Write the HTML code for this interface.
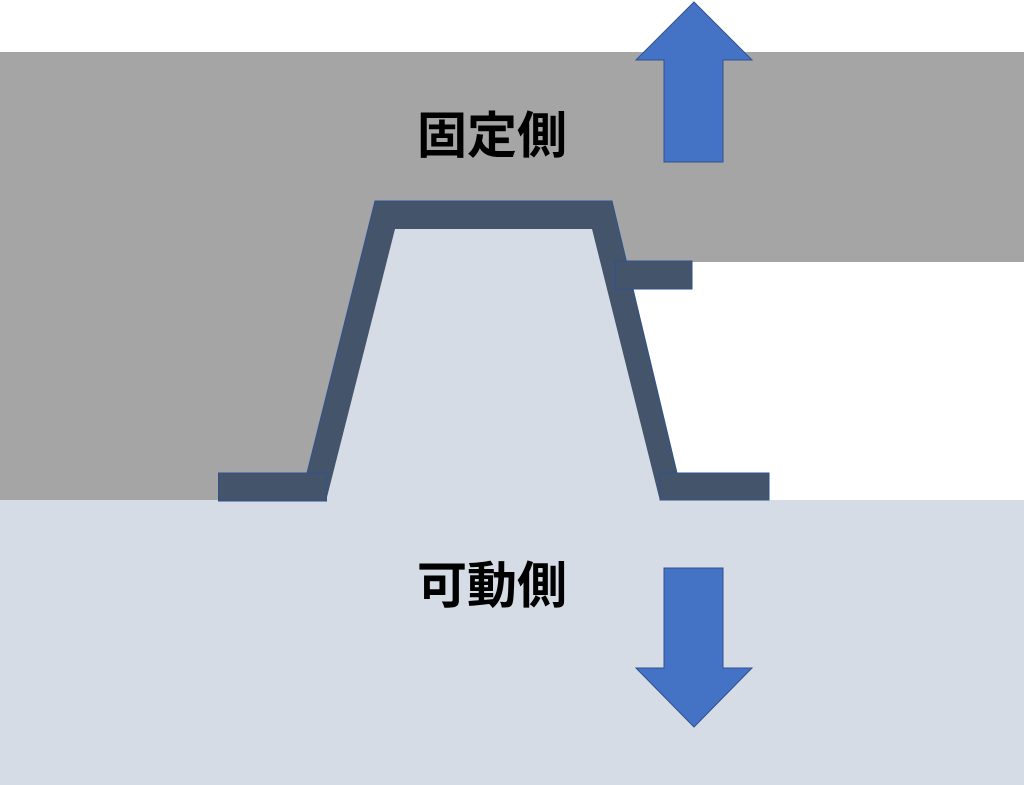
<!DOCTYPE html>
<html><head><meta charset="utf-8"><style>
html,body{margin:0;padding:0;background:#fff;}
svg{display:block;}
text{font-family:"Liberation Sans","Noto Sans CJK JP",sans-serif;font-weight:bold;font-size:50px;fill:#000;}
</style></head><body>
<svg width="1024" height="785" viewBox="0 0 1024 785">
<rect x="0" y="52" width="1024" height="448" fill="#a5a5a5"/>
<polygon points="626.6,262 1024,262 1024,500 677,500 677,473" fill="#fff"/>
<rect x="0" y="500" width="1024" height="285" fill="#d6dce5"/>
<!-- trapezoid -->
<polygon points="375,201 612,201 677,473 660,500 326,500 307,473" fill="#44546a" stroke="#2f528f" stroke-width="1"/>
<polygon points="395,229 592,229 660,501 326,501" fill="#d6dce5"/>
<rect x="218.5" y="473" width="108" height="28" fill="#44546a" stroke="#2f528f" stroke-width="1"/>
<rect x="660" y="473" width="109" height="27" fill="#44546a" stroke="#2f528f" stroke-width="1"/>
<rect x="615.5" y="261" width="76.5" height="28" fill="#44546a" stroke="#2f528f" stroke-width="1"/>
<rect x="619" y="262" width="72" height="26" fill="#44546a"/>
<!-- arrows -->
<polygon points="694,2 752,60 723,60 723,162 664,162 664,60 636,60" fill="#4472c4" stroke="#2f528f" stroke-width="1"/>
<polygon points="664,568 723,568 723,668 752,668 694,727 636,668 664,668" fill="#4472c4" stroke="#2f528f" stroke-width="1"/>
<text x="492" y="153" text-anchor="middle">固定側</text>
<text x="492" y="603" text-anchor="middle">可動側</text>
</svg>
</body></html>
